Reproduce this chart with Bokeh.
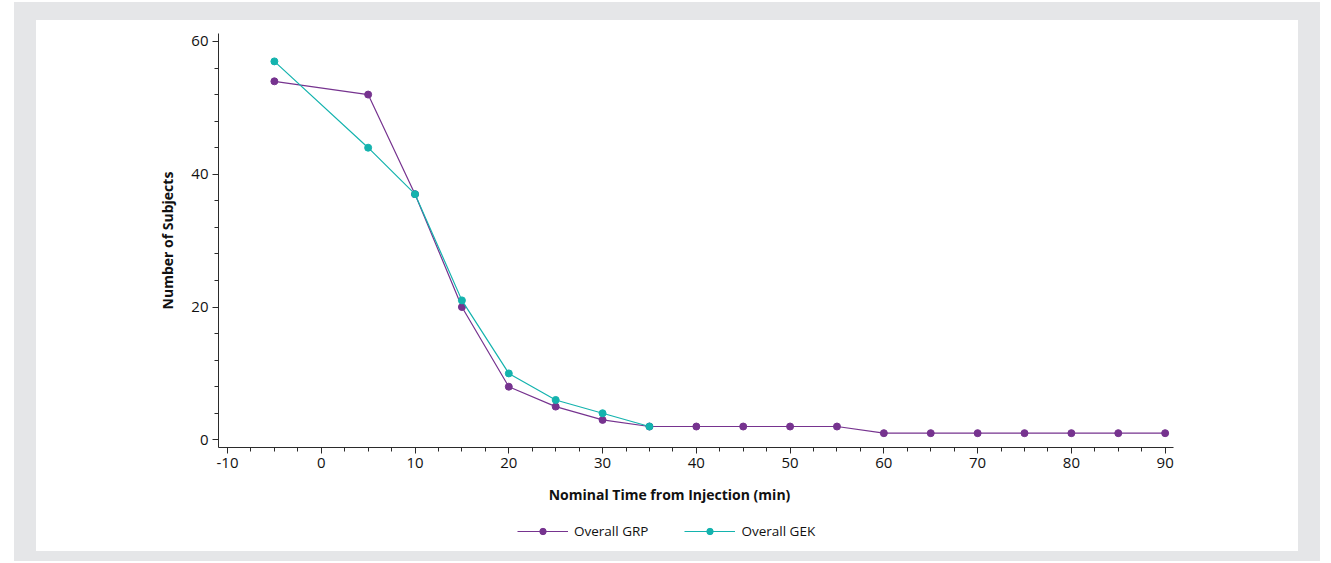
from bokeh.plotting import figure
from bokeh.models import (Range1d, SingleIntervalTicker, Legend, LegendItem, Label, Column,
                          PrintfTickFormatter)
from bokeh.embed import file_html
from bokeh.resources import INLINE

# ---- data ----
grp_time = [-5, 5, 10, 15, 20, 25, 30, 35, 40, 45, 50, 55, 60, 65, 70, 75, 80, 85, 90]
grp_n = [54, 52, 37, 20, 8, 5, 3, 2, 2, 2, 2, 2, 1, 1, 1, 1, 1, 1, 1]
gek_time = [-5, 5, 10, 15, 20, 25, 30, 35]
gek_n = [57, 44, 37, 21, 10, 6, 4, 2]
series_names = ["Overall GRP", "Overall GEK"]
x_title = "Nominal Time from Injection (min)"
y_title = "Number of Subjects"

PURPLE = "#76338f"
TEAL = "#14b3ae"
FONT = "Open Sans"
AXIS_COLOR = "#2b2b2b"
TEXT_COLOR = "#111111"
CARD_W = 1262
LEFT_B, RIGHT_B = 182, 125
FRAME_W = CARD_W - LEFT_B - RIGHT_B

# ---- main chart ----
p = figure(width=CARD_W, height=461, output_backend="svg", toolbar_location=None,
           x_range=Range1d(-10.96, 90.89), y_range=Range1d(-1.16, 61.2),
           min_border_left=LEFT_B, min_border_right=RIGHT_B, min_border_top=13, min_border_bottom=34,
           background_fill_color="white", border_fill_color="white", outline_line_color=None,
           styles={"background-color": "white"})
p.xgrid.visible = False
p.ygrid.visible = False

p.line(grp_time, grp_n, line_color=PURPLE, line_width=1.2)
p.scatter(grp_time, grp_n, size=7, fill_color=PURPLE, line_color=PURPLE)
p.line(gek_time, gek_n, line_color=TEAL, line_width=1.2)
p.scatter(gek_time, gek_n, size=7, fill_color=TEAL, line_color=TEAL)

for ax in (p.xaxis[0], p.yaxis[0]):
    ax.axis_line_color = AXIS_COLOR
    ax.major_tick_line_color = AXIS_COLOR
    ax.minor_tick_line_color = AXIS_COLOR
    ax.major_tick_out = 6
    ax.major_tick_in = 0
    ax.minor_tick_out = 4
    ax.minor_tick_in = 0
    ax.major_label_text_font = FONT
    ax.major_label_text_font_size = "15px"
    ax.major_label_text_color = TEXT_COLOR
    ax.axis_label_text_font = FONT
    ax.axis_label_text_font_size = "14px"
    ax.axis_label_text_font_style = "bold"
    ax.axis_label_text_color = TEXT_COLOR
    ax.formatter = PrintfTickFormatter(format="%d")

p.xaxis[0].ticker = SingleIntervalTicker(interval=10, num_minor_ticks=4)
p.yaxis[0].ticker = SingleIntervalTicker(interval=20, num_minor_ticks=5)
p.xaxis[0].major_label_standoff = 4
p.yaxis[0].major_label_standoff = 4
p.yaxis[0].axis_label = y_title
p.yaxis[0].axis_label_standoff = 11

# ---- strip below the chart: x title + legend (pixel-like coordinates, frame aligned to chart) ----
s = figure(width=CARD_W, height=70, output_backend="svg", toolbar_location=None,
           x_range=Range1d(0, FRAME_W), y_range=Range1d(1000, 1070),
           min_border_left=LEFT_B, min_border_right=RIGHT_B, min_border_top=0, min_border_bottom=0,
           background_fill_color="white", border_fill_color="white", outline_line_color=None,
           styles={"background-color": "white"})
s.axis.visible = False
s.grid.visible = False

# legend swatches: same series, lying outside this strip's visible ranges
l1 = s.line(grp_time, grp_n, line_color=PURPLE, line_width=1.2)
m1 = s.scatter(grp_time, grp_n, size=7, fill_color=PURPLE, line_color=PURPLE)
l2 = s.line(gek_time, gek_n, line_color=TEAL, line_width=1.2)
m2 = s.scatter(gek_time, gek_n, size=7, fill_color=TEAL, line_color=TEAL)

s.add_layout(Label(x=451, y=1057, text=x_title, text_font=FONT, text_font_size="14px",
                   text_font_style="bold", text_color=TEXT_COLOR, text_align="center",
                   text_baseline="middle"))

legend = Legend(items=[LegendItem(label=series_names[0], renderers=[l1, m1]),
                       LegendItem(label=series_names[1], renderers=[l2, m2])],
                location=(299, 11), orientation="horizontal",
                glyph_width=51, glyph_height=16, label_standoff=6, spacing=36,
                padding=0, margin=0, border_line_color=None, background_fill_alpha=0,
                label_text_font=FONT, label_text_font_size="13.5px", label_text_color=TEXT_COLOR,
                label_height=16)
s.add_layout(legend, "center")

root = Column(p, s, spacing=0,
              styles={"background-color": "#e5e6e8", "padding": "18px 22px 10px 22px",
                      "margin-left": "14px", "margin-top": "2px"})

open("out.html", "w").write(file_html(root, INLINE))
